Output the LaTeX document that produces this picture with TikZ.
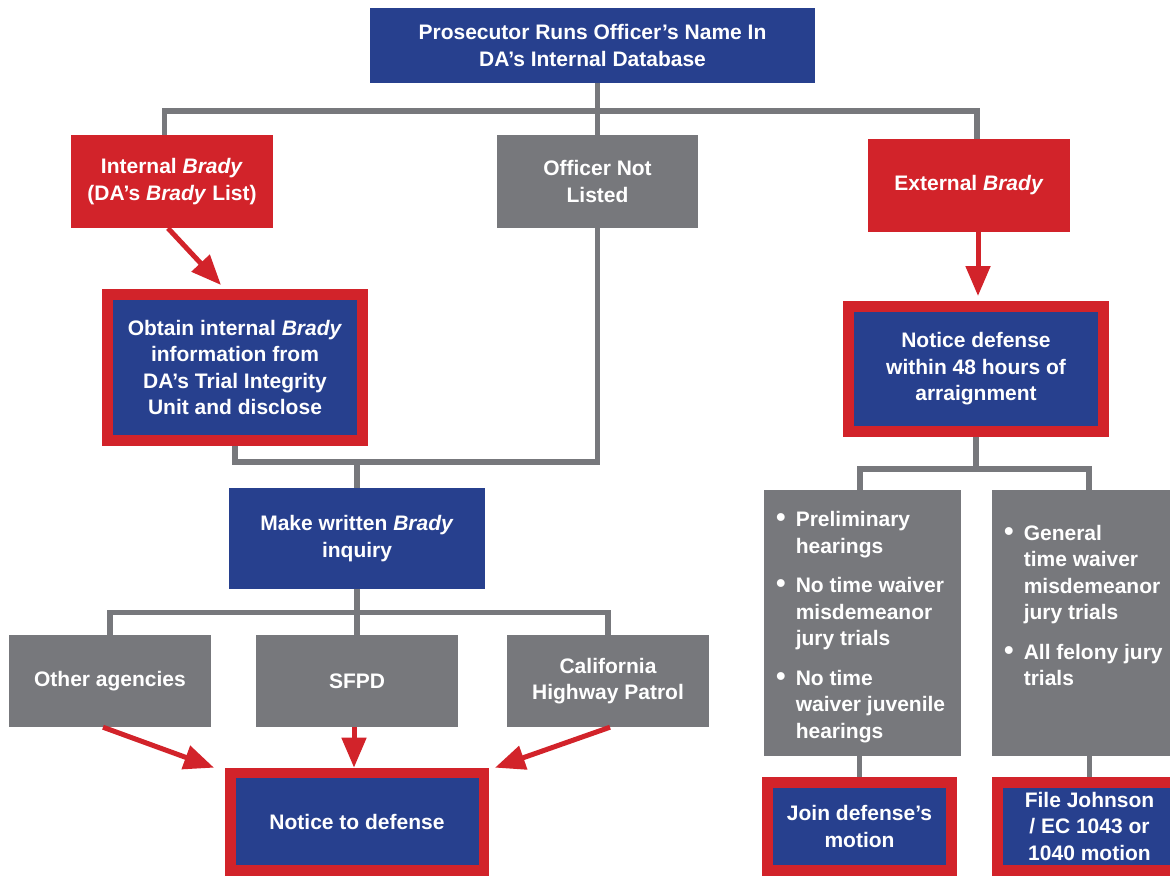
\documentclass[tikz,border=0pt]{standalone}
\usepackage{fontspec}
\setmainfont{Liberation Sans}
\usetikzlibrary{arrows.meta,calc}
\definecolor{dablue}{RGB}{39,64,142}
\definecolor{dared}{RGB}{210,35,42}
\definecolor{dagray}{RGB}{119,120,124}
\newcommand{\listdot}{\scalebox{1.3}{\textbullet}}

\begin{document}
\begin{tikzpicture}[x=1pt,y=-1pt,
  every node/.style={font=\bfseries\fontsize{21}{26.5}\selectfont, text=white, inner sep=0pt, align=center},
  bluebox/.style={fill=dablue},
  redbox/.style={fill=dared},
  graybox/.style={fill=dagray},
  framed/.style={fill=dablue, draw=dared, line width=11pt},
  link/.style={draw=dagray, line width=5.5pt},
  redarrow/.style={draw=dared, line width=5pt, -{Triangle[length=30pt,width=24pt]}},
]
  \useasboundingbox (0,0) rectangle (1170,876);

  \draw (592.5,45.5) node (top) [bluebox, minimum width=445pt, minimum height=75pt, ] {Prosecutor Runs Officer’s Name In\\DA’s Internal Database};

  \draw (172,181.5) node (intb) [redbox, minimum width=202pt, minimum height=93pt, ] {Internal \textit{Brady}\\(DA’s \textit{Brady} List)};
  \draw (597.5,181.5) node (notl) [graybox, minimum width=201pt, minimum height=93pt, ] {Officer Not\\Listed};
  \draw (969,185.5) node (extb) [redbox, minimum width=202pt, minimum height=93pt, ] {External \textit{Brady}};

  \draw (235,367.5) node (obtain) [framed, minimum width=255pt, minimum height=146pt, ] {Obtain internal \textit{Brady}\\information from\\DA’s Trial Integrity\\Unit and disclose};
  \draw (976,368.7) node (n48) [framed, minimum width=255pt, minimum height=125pt, ] {Notice defense\\within 48 hours of\\arraignment};

  \draw (357,538.5) node (mkinq) [bluebox, minimum width=256pt, minimum height=101pt, ] {Make written \textit{Brady}\\inquiry};

  \draw (110,681) node (other) [graybox, minimum width=202pt, minimum height=92pt, ] {Other agencies};
  \draw (357,681) node (sfpd) [graybox, minimum width=202pt, minimum height=92pt, ] {SFPD};
  \draw (608,681) node (chp) [graybox, minimum width=202pt, minimum height=92pt, ] {California\\Highway Patrol};

  \draw (357,821.8) node (ntd) [framed, line width=10.5pt, minimum width=253.5pt, minimum height=97.8pt, ] {Notice to defense};

  \draw (862.5,623) node (bl) [graybox, minimum width=197pt, minimum height=266pt, ] {};
  \draw (1092,623) node (br) [graybox, minimum width=200pt, minimum height=266pt, ] {};
  \draw (776,526.7) node (bltext) [anchor=base west, align=left, ] {%
    \begin{tabular}[t]{@{}l@{\hspace{10pt}}l@{}}
      \listdot & Preliminary\\ & hearings\\[13pt]
      \listdot & No time waiver\\ & misdemeanor\\ & jury trials\\[13pt]
      \listdot & No time\\ & waiver juvenile\\ & hearings
    \end{tabular}};
  \draw (1004,540) node (brtext) [anchor=base west, align=left, ] {%
    \begin{tabular}[t]{@{}l@{\hspace{10pt}}l@{}}
      \listdot & General\\ & time waiver\\ & misdemeanor\\ & jury trials\\[13pt]
      \listdot & All felony jury\\ & trials
    \end{tabular}};

  \draw (859.5,826.3) node (join) [framed, minimum width=184pt, minimum height=88.3pt, ] {Join defense’s\\motion};
  \draw (1089.5,826.3) node (fj) [framed, minimum width=184pt, minimum height=88.3pt, ] {File Johnson\\/ EC 1043 or\\1040 motion};

  \coordinate (split1) at (598,111);
  \coordinate (split2) at (357,462);
  \coordinate (split3) at (357,612.5);
  \coordinate (split4) at (976,469);

  \draw[link, ] (top.south -| notl.north) -- (notl.north);
  \draw[link, ] ([xshift=-7.5pt]intb.north) |- (split1) -| ([xshift=8pt]extb.north);
  \draw[link, ] (obtain.south) |- (split2) -| (notl.south);
  \draw[link, ] (split2) -- (mkinq.north);
  \draw[link, ] (mkinq.south) -- (split3);
  \draw[link, ] (other.north) |- (split3) -| (chp.north);
  \draw[link, ] (split3) -- (sfpd.north);
  \draw[link, ] (n48.south) -- (split4);
  \draw[link, ] ([xshift=-2.5pt]bl.north) |- (split4) -| ([xshift=-3pt]br.north);
  \draw[link, ] (join.north |- bl.south) -- (join.north);
  \draw[link, ] (fj.north |- br.south) -- (fj.north);

  \draw[redarrow, ] ([xshift=-4pt]intb.south) -- ([xshift=119pt,yshift=4pt]obtain.north west);
  \draw[redarrow, ] ([xshift=9pt]extb.south) -- ([xshift=2pt,yshift=4.7pt]n48.north);
  \draw[redarrow, ] ([xshift=-7pt]other.south) -- ([xshift=-11pt]ntd.north west);
  \draw[redarrow, ] ([xshift=-3pt]sfpd.south) -- ([xshift=-3pt]ntd.north);
  \draw[redarrow, ] ([xshift=2pt]chp.south) -- ([xshift=6pt]ntd.north east);

\end{tikzpicture}
\end{document}
